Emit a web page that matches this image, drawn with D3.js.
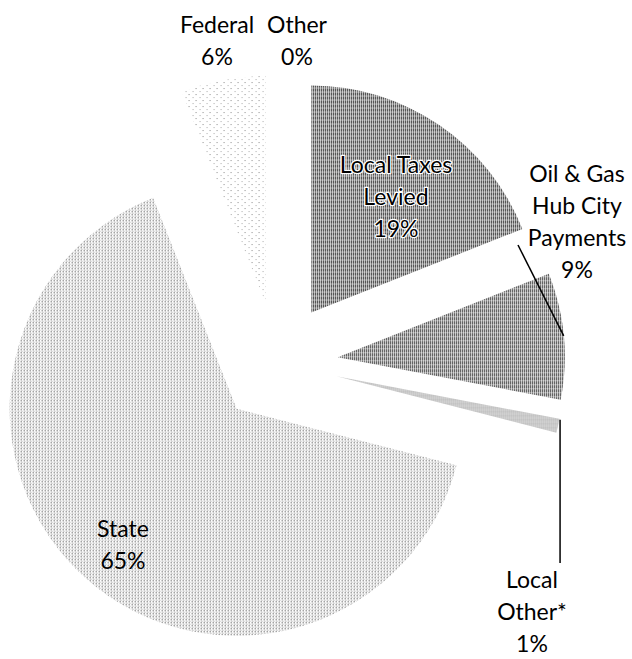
<!DOCTYPE html>
<html>
<head>
<meta charset="utf-8">
<script src="https://cdn.jsdelivr.net/npm/d3@7"></script>
<style>
  body { margin: 0; background: #fff; }
  svg { display: block; }
  .lbl { font-family: Lato, "Open Sans", sans-serif; font-size: 23px; fill: #000; }
</style>
</head>
<body>
<div id="chart"></div>
<script>
// data
var categories = ["Local Taxes Levied", "Oil & Gas Hub City Payments", "Local Other*", "State", "Federal", "Other"];
var shares = [19, 9, 1, 65, 6, 0];
var labelLines = [
  ["Local Taxes", "Levied", "19%"],
  ["Oil & Gas", "Hub City", "Payments", "9%"],
  ["Local", "Other*", "1%"],
  ["State", "65%"],
  ["Federal", "6%"],
  ["Other", "0%"]
];

// layout
var width = 632, height = 659;
var cx = 277, cy = 363;
var radius = 227;
var explode = 61;
var lineH = 32;
// label anchor relative to pie centre: dx, first baseline dy
var labelPos = [[119, -190], [300, -181], [255, 225], [-154, 174], [-60, -330], [20, -330]];
var fills = ["url(#p-taxes)", "url(#p-oil)", "url(#p-lother)", "url(#p-state)", "url(#p-fed)", "none"];

var svg = d3.select("#chart").append("svg")
  .attr("width", width)
  .attr("height", height);

// hatch patterns
var defs = svg.append("defs");
function stripes(id, color) {
  var p = defs.append("pattern").attr("id", id)
    .attr("patternUnits", "userSpaceOnUse")
    .attr("width", 2).attr("height", 4);
  p.append("rect").attr("width", 2).attr("height", 4).attr("fill", "#fff");
  p.append("rect").attr("width", 1).attr("height", 3).attr("fill", color);
  p.append("rect").attr("y", 3).attr("width", 1).attr("height", 1).attr("fill", "#888");
}
stripes("p-taxes", "#111");
stripes("p-oil", "#2a2a2a");
stripes("p-lother", "#9a9a9a");

var ps = defs.append("pattern").attr("id", "p-state")
  .attr("patternUnits", "userSpaceOnUse").attr("width", 3).attr("height", 3);
ps.append("rect").attr("width", 3).attr("height", 3).attr("fill", "#fff");
ps.append("rect").attr("x", 0).attr("y", 0).attr("width", 1).attr("height", 1).attr("fill", "#666");
ps.append("rect").attr("x", 0).attr("y", 1).attr("width", 1).attr("height", 1).attr("fill", "#aaa");
ps.append("rect").attr("x", 1).attr("y", 2).attr("width", 1).attr("height", 1).attr("fill", "#bbb");

var pf = defs.append("pattern").attr("id", "p-fed")
  .attr("patternUnits", "userSpaceOnUse").attr("width", 7).attr("height", 6);
pf.append("rect").attr("width", 7).attr("height", 6).attr("fill", "#fff");
pf.append("rect").attr("x", 0).attr("y", 1).attr("width", 1).attr("height", 1).attr("fill", "#888");
pf.append("rect").attr("x", 4).attr("y", 4).attr("width", 1).attr("height", 1).attr("fill", "#aaa");

var pie = d3.pie().sort(null).value(function(d) { return d; });
var arcs = pie(shares);
var arc = d3.arc().innerRadius(0).outerRadius(radius);

function mid(d) { return (d.startAngle + d.endAngle) / 2; }
function offset(d) {
  var a = mid(d);
  return [cx + explode * Math.sin(a), cy - explode * Math.cos(a)];
}

var g = svg.append("g");
g.selectAll("path.slice")
  .data(arcs.filter(function(d) { return d.value > 0; }))
  .enter().append("path")
    .attr("class", "slice")
    .attr("transform", function(d) { var o = offset(d); return "translate(" + o[0] + "," + o[1] + ")"; })
    .attr("d", arc)
    .attr("fill", function(d) { return fills[d.index]; });

// leader lines
function outerMid(d) {
  var o = offset(d), a = mid(d);
  return [o[0] + radius * Math.sin(a), o[1] - radius * Math.cos(a)];
}
var pOil = outerMid(arcs[1]);
svg.append("line")
  .attr("x1", pOil[0]).attr("y1", pOil[1])
  .attr("x2", cx + 241).attr("y2", cy - 118)
  .attr("stroke", "#000").attr("stroke-width", 1.5);
var pLo = outerMid(arcs[2]);
svg.append("line")
  .attr("x1", pLo[0] + 2).attr("y1", pLo[1] - 6)
  .attr("x2", pLo[0] + 2).attr("y2", cy + 200)
  .attr("stroke", "#000").attr("stroke-width", 1.5);

// labels
arcs.forEach(function(d, i) {
  var t = svg.append("text")
    .attr("class", "lbl")
    .attr("text-anchor", "middle")
    .attr("x", cx + labelPos[i][0])
    .attr("y", cy + labelPos[i][1]);
  if (i === 0) {
    t.attr("stroke", "#fff").attr("stroke-width", 2.5)
     .attr("paint-order", "stroke").attr("stroke-linejoin", "round");
  }
  labelLines[i].forEach(function(s, j) {
    t.append("tspan")
      .attr("x", cx + labelPos[i][0])
      .attr("dy", j === 0 ? 0 : lineH)
      .text(s);
  });
});
</script>
</body>
</html>
